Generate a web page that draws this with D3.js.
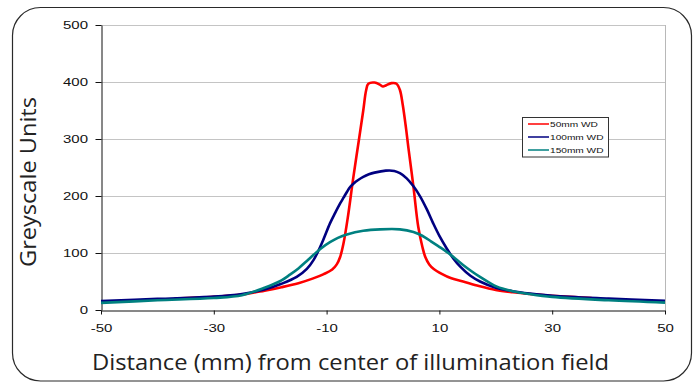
<!DOCTYPE html>
<html>
<head>
<meta charset="utf-8">
<script src="https://cdn.jsdelivr.net/npm/d3@7"></script>
<style>
  html, body { margin: 0; padding: 0; background: #fff; }
  svg { display: block; }
</style>
</head>
<body>
<svg id="chart" width="698" height="383"></svg>
<script>
// ---- data ----
const seriesNames = ["50mm WD", "100mm WD", "150mm WD"];
const seriesColors = ["#ff0000", "#000080", "#008080"];

const redX = [-37, -30, -25, -21, -18, -15, -12.5, -10.5, -9, -8.2, -7.6, -7, -6.2, -5.3, -4.4, -3.5, -3, -2.6, -1.5, -0.5, 0, 0.5, 1.5, 2.4, 3, 3.5, 4, 4.5, 5.4, 6.25, 7, 7.5, 8.2, 9, 10.5, 12, 14.2, 17, 20, 23, 26, 30, 37];
const redY = [20, 23, 27, 34, 40, 47, 55, 63, 71, 80, 93, 117, 165, 230, 290, 350, 385, 397, 399, 395, 392, 394, 398, 397, 386, 360, 325, 285, 216, 146, 110, 93, 80, 72, 63, 56, 50, 42, 35, 31, 28, 25, 21];

const blueX = [-50, -40, -30, -25, -21, -18, -15.3, -13.5, -12.3, -11.5, -10.6, -9.4, -8.5, -7.6, -7, -6.4, -5.9, -5.2, -4.4, -3.5, -2.5, -1.5, 0.5, 2, 3, 4.2, 5.4, 6.6, 7.8, 8.9, 10, 11.3, 12.5, 13.7, 15.5, 17.2, 20, 23, 26, 30, 40, 50];
const blueY = [15.5, 19.5, 23.5, 28, 36, 46, 58, 72, 88, 103, 123, 152, 170, 187, 197, 207, 215, 222, 228, 233.5, 238, 241, 244.5, 244, 240, 231, 217, 199, 176, 152, 130, 108, 90, 76, 60, 50, 39, 33, 29, 25, 20, 16];

const tealX = [-50, -40, -30, -25, -21, -18, -16.5, -15, -13.5, -12.4, -11, -9.4, -8, -6.4, -3.5, -0.5, 3, 5.4, 6.5, 7.5, 8.5, 9.8, 11.3, 12.8, 14.2, 15.7, 17.2, 18.7, 20.2, 23, 26, 30, 40, 50];
const tealY = [12.5, 17, 21, 26, 39, 52, 62, 73, 86, 96, 108, 119, 126.5, 132.5, 139, 141.5, 141.5, 137, 132.5, 127, 120.5, 112, 102, 90.5, 79, 68, 58, 49, 41, 33, 28, 23, 17, 13];

const xTicks = [-50, -30, -10, 10, 30, 50];
const yTicks = [0, 100, 200, 300, 400, 500];
const xTitle = "Distance (mm) from center of illumination field";
const yTitle = "Greyscale Units";

// ---- layout ----
const W = 698, H = 383;
const plot = { left: 101, right: 665, top: 25, bottom: 310 };
const svg = d3.select("#chart");

svg.append("rect").attr("x", 0).attr("y", 0).attr("width", W).attr("height", H).attr("fill", "#fff");
svg.append("rect")
  .attr("x", 12.5).attr("y", 7.5).attr("width", 679).attr("height", 373.5)
  .attr("rx", 28).attr("ry", 28)
  .attr("fill", "#fff").attr("stroke", "#2a2a2a").attr("stroke-width", 1.2);

const x = d3.scaleLinear().domain([-50, 50]).range([plot.left, plot.right]);
const y = d3.scaleLinear().domain([0, 500]).range([plot.bottom, plot.top]);

// gridlines
svg.append("g").selectAll("line").data(yTicks.filter(d => d > 0)).join("line")
  .attr("x1", plot.left).attr("x2", plot.right)
  .attr("y1", d => Math.round(y(d)) + 0.5).attr("y2", d => Math.round(y(d)) + 0.5)
  .attr("stroke", "#c4c4c4").attr("stroke-width", 1);
// right border of plot
svg.append("line")
  .attr("x1", plot.right + 0.5).attr("x2", plot.right + 0.5)
  .attr("y1", plot.top).attr("y2", plot.bottom)
  .attr("stroke", "#b8b8b8").attr("stroke-width", 1);

const tickFont = "'Liberation Sans', Arial, sans-serif";
const stretch = 1.5;

// y axis
const gy = svg.append("g").attr("transform", `translate(${plot.left + 0.5},0)`)
  .call(d3.axisLeft(y).tickValues(yTicks).tickSize(6).tickSizeOuter(0).tickFormat(d => String(d)));
gy.select(".domain").attr("stroke", "#111");
gy.selectAll(".tick line").attr("stroke", "#111");
gy.selectAll(".tick text")
  .attr("font-family", tickFont).attr("font-size", 10).attr("fill", "#111")
  .attr("x", -13.5 / stretch).attr("dy", "0.36em")
  .attr("transform", `scale(${stretch},1)`);

// x axis
const gx = svg.append("g").attr("transform", `translate(0,${plot.bottom + 0.5})`)
  .call(d3.axisBottom(x).tickValues(xTicks).tickSize(4).tickSizeOuter(0).tickFormat(d => String(d)));
gx.select(".domain").attr("stroke", "#111");
gx.selectAll(".tick line").attr("stroke", "#111");
gx.selectAll(".tick text")
  .attr("font-family", tickFont).attr("font-size", 10).attr("fill", "#111")
  .attr("y", 21.5).attr("dy", null)
  .attr("transform", `scale(${stretch},1)`);

// curves
const line = d3.line().x(d => x(d[0])).y(d => y(d[1])).curve(d3.curveCatmullRom.alpha(0.5));
const series = [
  d3.zip(redX, redY),
  d3.zip(blueX, blueY),
  d3.zip(tealX, tealY)
];
svg.append("g").selectAll("path").data(series).join("path")
  .attr("d", line)
  .attr("fill", "none")
  .attr("stroke", (d, i) => seriesColors[i])
  .attr("stroke-width", 2.6)
  .attr("stroke-linejoin", "round");

// legend
const lg = svg.append("g");
lg.append("rect").attr("x", 522.5).attr("y", 117.5).attr("width", 86).attr("height", 39.5)
  .attr("fill", "#fff").attr("stroke", "#333").attr("stroke-width", 1);
const rowY = [124, 137, 150];
seriesNames.forEach((name, i) => {
  lg.append("line").attr("x1", 528).attr("x2", 549)
    .attr("y1", rowY[i]).attr("y2", rowY[i])
    .attr("stroke", seriesColors[i]).attr("stroke-width", 1.5);
  lg.append("text")
    .attr("transform", `translate(550,${rowY[i] + 2.6}) scale(1.45,1)`)
    .attr("font-family", tickFont).attr("font-size", 7).attr("fill", "#111")
    .text(name);
});

// axis titles
const titleFont = "'Open Sans', 'Noto Sans', sans-serif";
svg.append("text")
  .attr("x", 92).attr("y", 370)
  .attr("font-family", titleFont).attr("font-size", 22).attr("fill", "#222")
  .attr("textLength", 517).attr("lengthAdjust", "spacingAndGlyphs")
  .text(xTitle);
svg.append("text")
  .attr("transform", "translate(36,267) rotate(-90)")
  .attr("font-family", titleFont).attr("font-size", 22).attr("fill", "#222")
  .attr("textLength", 170).attr("lengthAdjust", "spacingAndGlyphs")
  .text(yTitle);
</script>
</body>
</html>
